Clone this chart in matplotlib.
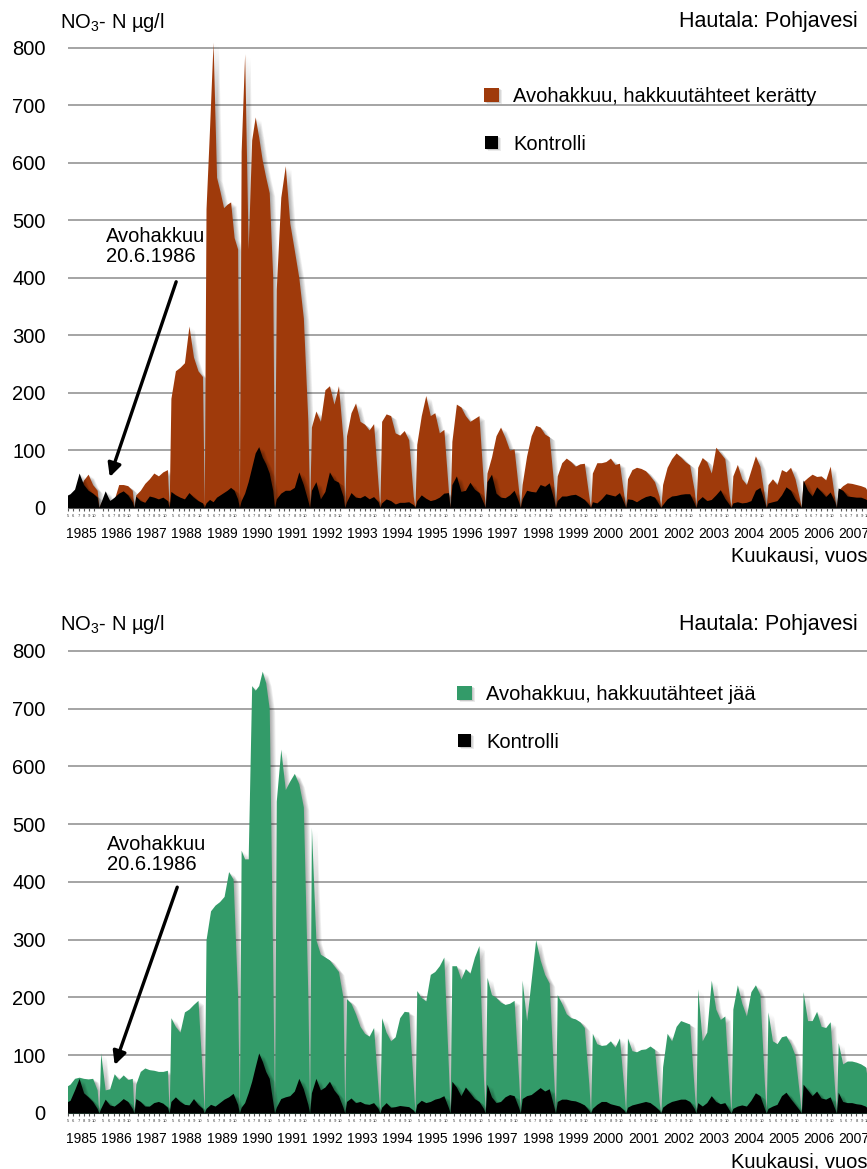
import numpy as np
import matplotlib
matplotlib.use('Agg')
import matplotlib.pyplot as plt
import matplotlib.transforms as mtransforms
from matplotlib.patches import Rectangle

plt.rcParams['font.family'] = ['Liberation Sans', 'DejaVu Sans']
plt.rcParams['mathtext.fontset'] = 'custom'
plt.rcParams['mathtext.rm'] = 'Liberation Sans'
plt.rcParams['mathtext.it'] = 'Liberation Sans:italic'

W, H = 867, 1169

years = list(range(1985, 2008))
months = ['5', '6', '7', '8', '9', '10']
y_ticks = [0, 100, 200, 300, 400, 500, 600, 700, 800]

# NO3-N, µg/l, sampled May-Oct each year (one list per year)
keratty = [
    [15, 18, 22, 30, 48, 58, 40, 30],
    [8, 20, 12, 14, 40, 40, 38, 30],
    [22, 30, 42, 50, 60, 55, 62, 66],
    [190, 238, 244, 252, 316, 262, 238, 228],
    [520, 660, 810, 575, 550, 522, 528, 532, 470, 450],
    [620, 790, 450, 640, 680, 645, 605, 575, 548, 400],
    [380, 540, 595, 495, 448, 400, 330, 150],
    [140, 168, 150, 205, 212, 180, 212, 120],
    [125, 165, 182, 150, 145, 135, 146, 40],
    [150, 163, 160, 130, 126, 134, 118, 20],
    [110, 160, 195, 160, 165, 130, 136, 30],
    [115, 180, 175, 160, 150, 155, 160, 40],
    [60, 88, 125, 140, 122, 100, 102, 30],
    [40, 90, 125, 143, 140, 128, 123, 40],
    [55, 78, 86, 80, 72, 76, 77, 20],
    [60, 78, 78, 80, 86, 75, 77, 20],
    [50, 66, 70, 68, 64, 55, 45, 20],
    [40, 70, 85, 95, 88, 80, 74, 30],
    [70, 87, 80, 60, 105, 95, 85, 20],
    [55, 75, 50, 40, 65, 90, 72, 20],
    [40, 50, 40, 66, 62, 70, 50, 15],
    [45, 52, 58, 54, 55, 48, 72, 15],
    [30, 38, 43, 42, 40, 38, 35, 20],
]
kontrolli_a = [
    [20, 24, 32, 60, 40, 30, 25, 18],
    [8, 29, 12, 18, 25, 29, 22, 10],
    [20, 12, 9, 20, 18, 15, 18, 12],
    [28, 22, 18, 15, 26, 18, 12, 8],
    [8, 14, 10, 18, 22, 26, 30, 35, 30, 15],
    [12, 25, 45, 70, 95, 106, 88, 76, 60, 30],
    [15, 25, 30, 30, 35, 62, 40, 12],
    [30, 45, 15, 28, 62, 48, 44, 20],
    [10, 26, 18, 17, 21, 15, 19, 10],
    [8, 15, 12, 6, 9, 9, 10, 5],
    [12, 22, 16, 12, 14, 18, 25, 26],
    [40, 55, 28, 30, 44, 32, 26, 8],
    [45, 58, 25, 18, 17, 22, 30, 10],
    [15, 30, 28, 27, 40, 37, 43, 15],
    [12, 20, 20, 22, 23, 19, 14, 5],
    [10, 8, 15, 24, 22, 20, 26, 8],
    [15, 14, 10, 15, 19, 21, 18, 5],
    [5, 15, 20, 21, 23, 24, 24, 8],
    [12, 19, 12, 14, 22, 31, 16, 5],
    [8, 10, 8, 9, 12, 30, 35, 10],
    [8, 10, 12, 22, 36, 30, 15, 5],
    [48, 30, 20, 36, 28, 19, 27, 10],
    [34, 30, 20, 19, 18, 18, 15, 10],
]
jaa = [
    [45, 50, 60, 62, 60, 59, 60, 40],
    [104, 40, 42, 68, 58, 66, 58, 60],
    [50, 72, 78, 75, 74, 72, 72, 74],
    [165, 150, 140, 175, 180, 188, 195, 60],
    [300, 350, 360, 366, 375, 418, 405, 200],
    [455, 440, 440, 740, 732, 740, 765, 745, 700, 250],
    [540, 630, 560, 575, 588, 570, 530, 200],
    [495, 300, 275, 270, 265, 255, 245, 200],
    [198, 190, 172, 150, 138, 133, 148, 40],
    [165, 140, 125, 132, 165, 176, 175, 50],
    [212, 200, 194, 240, 245, 255, 270, 80],
    [255, 255, 232, 250, 242, 270, 290, 60],
    [235, 205, 200, 192, 188, 190, 195, 60],
    [230, 160, 230, 300, 265, 240, 225, 60],
    [205, 190, 172, 165, 163, 158, 148, 50],
    [138, 120, 117, 118, 125, 114, 130, 40],
    [130, 108, 106, 110, 111, 116, 110, 20],
    [80, 138, 125, 150, 160, 157, 154, 40],
    [215, 125, 140, 230, 180, 162, 168, 40],
    [180, 222, 190, 168, 210, 222, 205, 50],
    [175, 125, 120, 132, 134, 120, 100, 30],
    [210, 160, 160, 176, 150, 148, 158, 40],
    [122, 85, 90, 90, 88, 85, 80, 40],
]
kontrolli_b = [
    [18, 22, 40, 60, 35, 28, 20, 8],
    [8, 24, 14, 12, 18, 25, 20, 8],
    [25, 20, 12, 12, 18, 20, 17, 10],
    [20, 28, 20, 15, 14, 25, 15, 8],
    [8, 15, 12, 18, 24, 28, 34, 15],
    [10, 18, 35, 55, 80, 104, 90, 72, 60, 20],
    [10, 25, 28, 30, 38, 60, 42, 15],
    [35, 60, 40, 45, 55, 40, 30, 10],
    [20, 26, 18, 20, 16, 15, 18, 8],
    [10, 18, 10, 11, 13, 12, 11, 5],
    [15, 22, 18, 20, 24, 26, 30, 10],
    [55, 45, 30, 45, 35, 25, 20, 8],
    [50, 28, 18, 20, 28, 32, 30, 10],
    [25, 30, 32, 38, 44, 38, 42, 12],
    [20, 24, 24, 22, 21, 18, 14, 5],
    [8, 15, 20, 20, 16, 14, 12, 5],
    [10, 14, 16, 18, 20, 18, 12, 5],
    [10, 16, 20, 22, 24, 24, 20, 8],
    [18, 12, 18, 30, 20, 16, 18, 5],
    [8, 12, 14, 12, 22, 35, 30, 8],
    [8, 12, 15, 30, 36, 25, 15, 5],
    [50, 40, 30, 38, 26, 24, 28, 8],
    [36, 20, 18, 18, 16, 15, 12, 5],
]

BROWN = '#9f3a0b'
GREEN = '#339b69'

fig = plt.figure(figsize=(W / 100, H / 100), dpi=100)


def series_xy(values):
    # each season drops back to zero at the year boundary
    xs, ys = [], []
    for yr, vals in zip(years, values):
        n = len(vals)
        xs.append(yr)
        ys.append(0)
        xs.extend(yr + 0.05 + 0.9 * np.arange(n) / (n - 1))
        ys.extend(vals)
    xs.append(years[-1] + 1)
    ys.append(0)
    return np.array(xs), np.array(ys)


def shadow_fill(ax, xs, ys, color, z):
    # soft drop shadow: a few offset translucent copies
    for k in range(1, 7):
        off = mtransforms.ScaledTranslation(k * 0.009, -k * 0.006, fig.dpi_scale_trans)
        ax.fill_between(xs, ys, color='black', alpha=0.06, lw=0,
                        transform=ax.transData + off, zorder=z - 0.5)
    ax.fill_between(xs, ys, color=color, lw=0, zorder=z)


def fig_text(x, y, s, **kw):
    return fig.text(x / W, 1 - y / H, s, **kw)


def legend_box(x0, y0, x1, y1, color):
    for k in range(1, 4):
        fig.add_artist(Rectangle(((x0 + k) / W, 1 - (y1 + k * 0.7) / H), (x1 - x0) / W,
                                 (y1 - y0) / H, color='black', alpha=0.08, lw=0,
                                 transform=fig.transFigure))
    fig.add_artist(Rectangle((x0 / W, 1 - y1 / H), (x1 - x0) / W, (y1 - y0) / H,
                             color=color, lw=0, transform=fig.transFigure))


def panel(top_px, zero_px, cut_vals, ctrl_vals, color, label, leg_y, leg_x,
          arrow_from, arrow_to, note_xy):
    ax = fig.add_axes([68 / W, 1 - zero_px / H, (W - 68) / W, (zero_px - top_px) / H])
    ax.set_xlim(1985.13, 2007.63)
    ax.set_ylim(0, 820)

    x1, y1 = series_xy(cut_vals)
    x2, y2 = series_xy(ctrl_vals)
    shadow_fill(ax, x1, y1, color, 3)
    shadow_fill(ax, x2, y2, 'black', 5)

    ax.set_axisbelow(True)
    ax.yaxis.grid(True, color='#8c8c8c', lw=1.1)
    ax.set_yticks(y_ticks)
    ax.tick_params(axis='y', length=0, pad=16, labelsize=14.5)
    ax.set_xticks([yr + 0.5 for yr in years], labels=[str(yr) for yr in years])
    ax.tick_params(axis='x', which='major', length=0, pad=14, labelsize=10)
    mpos = [yr + 0.12 + 0.15 * i for yr in years for i in range(len(months))]
    ax.set_xticks(mpos, minor=True)
    ax.tick_params(axis='x', which='minor', length=2.5, width=0.8, color='#555555')
    for s in ('top', 'right', 'left'):
        ax.spines[s].set_visible(False)
    ax.spines['bottom'].set_color('#777777')

    # tiny month numbers under each season
    mtr = ax.get_xaxis_transform() + mtransforms.ScaledTranslation(0, -0.085, fig.dpi_scale_trans)
    for yr in years:
        for i, m in enumerate(months):
            ax.text(yr + 0.12 + 0.15 * i, 0, m, transform=mtr, fontsize=3,
                    ha='center', va='center', color='#333333', clip_on=False)

    ax.annotate('', xy=arrow_to, xytext=arrow_from,
                arrowprops=dict(arrowstyle='-|>', lw=2.4, color='black',
                                mutation_scale=20, shrinkA=0, shrinkB=0))
    ax.text(note_xy[0], note_xy[1], 'Avohakkuu\n20.6.1986', fontsize=14.5,
            ha='left', va='top', linespacing=1.05)

    base = top_px - 12
    fig_text(60, base + 3, r'NO$_3$- N µg/l', fontsize=14.5, va='baseline')
    fig_text(858, base + 3, 'Hautala: Pohjavesi', fontsize=15.5, ha='right', va='baseline')
    fig_text(leg_x + 29, leg_y + 7, label, fontsize=14.5, va='baseline')
    fig_text(leg_x + 29, leg_y + 55, 'Kontrolli', fontsize=14.5, va='baseline')
    legend_box(leg_x, leg_y - 7, leg_x + 15, leg_y + 7, color)
    legend_box(leg_x + 1, leg_y + 41, leg_x + 14, leg_y + 54, 'black')
    fig_text(731, zero_px + 54, 'Kuukausi, vuosi', fontsize=14.5, va='baseline')
    return ax


panel(36.5, 507.5, keratty, kontrolli_a, BROWN, 'Avohakkuu, hakkuutähteet kerätty',
      95, 484, (1988.2, 393), (1986.31, 53), (1986.2, 488))
panel(639.4, 1113, jaa, kontrolli_b, GREEN, 'Avohakkuu, hakkuutähteet jää',
      693, 457, (1988.23, 391), (1986.45, 83), (1986.22, 481))

fig.savefig('out.png', dpi=100)
